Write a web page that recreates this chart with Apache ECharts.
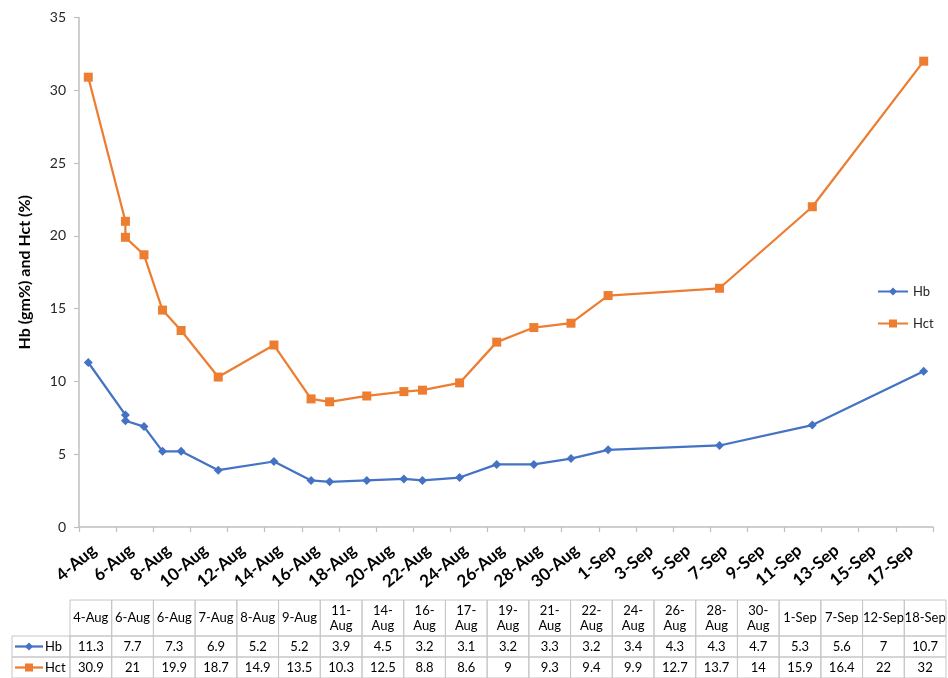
<!DOCTYPE html>
<html>
<head>
<meta charset="utf-8">
<script src="https://cdn.jsdelivr.net/npm/echarts@6/dist/echarts.min.js"></script>
<style>
  html, body { margin: 0; padding: 0; background: #fff; }
  #chart { width: 948px; height: 678px; }
</style>
</head>
<body>
<div id="chart"></div>
<script>
// Dates of each blood count (day-Month)
const dates = ['4-Aug', '6-Aug', '6-Aug', '7-Aug', '8-Aug', '9-Aug', '11-Aug', '14-Aug', '16-Aug', '17-Aug',
  '19-Aug', '21-Aug', '22-Aug', '24-Aug', '26-Aug', '28-Aug', '30-Aug', '1-Sep', '7-Sep', '12-Sep', '18-Sep'];
// Column headings of the data table (long ones wrap after the hyphen)
const tableHeads = ['4-Aug', '6-Aug', '6-Aug', '7-Aug', '8-Aug', '9-Aug', '11-\nAug', '14-\nAug', '16-\nAug', '17-\nAug',
  '19-\nAug', '21-\nAug', '22-\nAug', '24-\nAug', '26-\nAug', '28-\nAug', '30-\nAug', '1-Sep', '7-Sep', '12-Sep', '18-Sep'];
// Haemoglobin (gm%)
const hb = [11.3, 7.7, 7.3, 6.9, 5.2, 5.2, 3.9, 4.5, 3.2, 3.1, 3.2, 3.3, 3.2, 3.4, 4.3, 4.3, 4.7, 5.3, 5.6, 7, 10.7];
// Haematocrit (%)
const hct = [30.9, 21, 19.9, 18.7, 14.9, 13.5, 10.3, 12.5, 8.8, 8.6, 9, 9.3, 9.4, 9.9, 12.7, 13.7, 14, 15.9, 16.4, 22, 32];
const seriesNames = ['Hb', 'Hct'];

// ---- date axis helpers: days counted from 4-Aug, each day is one slot ----
const MONTHS = ['Jan', 'Feb', 'Mar', 'Apr', 'May', 'Jun', 'Jul', 'Aug', 'Sep', 'Oct', 'Nov', 'Dec'];
const DAY = 86400000;
const origin = Date.UTC(2001, 7, 4);
const SPAN_DAYS = 46;            // 4-Aug .. 18-Sep inclusive
const STEP_DAYS = 2;
function dayIndex(s) {
  const [d, m] = s.split('-');
  return (Date.UTC(2001, MONTHS.indexOf(m), +d) - origin) / DAY;
}
function dayLabel(n) {
  const t = new Date(origin + n * DAY);
  return t.getUTCDate() + '-' + MONTHS[t.getUTCMonth()];
}
// date ticks every second day; the closing tick carries no label
const labelDays = [];
for (let d = 0; d < SPAN_DAYS; d += STEP_DAYS) labelDays.push(d);

// ---- styles ----
const FONT = 'Lato, "Open Sans", sans-serif';
const BLUE = '#4472C4';
const ORANGE = '#ED7D31';
const AXIS_GREY = '#BFBFBF';
const GRID_GREY = '#C6C6C6';
const LABEL_ANGLE = 40 * Math.PI / 180;

// ---- table layout (value units of the table grid) ----
const LEGEND_COL = 1.39;          // width of the key column, in data-column units
const ROW_EDGES = [0, 36, 57, 78]; // header, Hb row, Hct row

const hbPoints = dates.map((d, i) => [dayIndex(d) + 0.5, hb[i]]);
const hctPoints = dates.map((d, i) => [dayIndex(d) + 0.5, hct[i]]);

function cellText(x, y, text, extra) {
  return {
    type: 'text',
    style: Object.assign({
      x: x, y: y, text: text, align: 'center', verticalAlign: 'middle',
      font: '13px ' + FONT, fill: '#000', lineHeight: 15
    }, extra || {})
  };
}

// slanted date labels hanging below the x axis
function renderDateLabel(params, api) {
  const d = api.value(0);
  const p = api.coord([d, 0]);
  return {
    type: 'text',
    x: p[0] + 15,
    y: p[1] + 21,
    rotation: LABEL_ANGLE,
    style: {
      text: dayLabel(d), align: 'right', verticalAlign: 'middle',
      font: 'bold 17px ' + FONT, fill: '#000'
    }
  };
}

function renderColumn(params, api) {
  const i = api.value(0);
  const x0 = api.coord([i, 0])[0];
  const x1 = api.coord([i + 1, 0])[0];
  const ys = ROW_EDGES.map(r => api.coord([i, r])[1]);
  const xm = (x0 + x1) / 2;
  const cells = [];
  for (let r = 0; r < 3; r++) {
    cells.push({
      type: 'rect',
      shape: { x: x0, y: ys[r], width: x1 - x0, height: ys[r + 1] - ys[r] },
      style: { fill: 'none', stroke: GRID_GREY, lineWidth: 1 }
    });
  }
  cells.push(cellText(xm, (ys[0] + ys[1]) / 2, tableHeads[i]));
  cells.push(cellText(xm, (ys[1] + ys[2]) / 2, String(hb[i])));
  cells.push(cellText(xm, (ys[2] + ys[3]) / 2, String(hct[i])));
  return { type: 'group', children: cells };
}

function renderKeys(params, api) {
  const x0 = api.coord([-LEGEND_COL, 0])[0];
  const x1 = api.coord([0, 0])[0];
  const ys = ROW_EDGES.map(r => api.coord([0, r])[1]);
  const kids = [];
  const colors = [BLUE, ORANGE];
  for (let r = 1; r < 3; r++) {
    const yc = (ys[r] + ys[r + 1]) / 2;
    kids.push({
      type: 'rect',
      shape: { x: x0, y: ys[r], width: x1 - x0, height: ys[r + 1] - ys[r] },
      style: { fill: 'none', stroke: GRID_GREY, lineWidth: 1 }
    });
    const lx0 = x0 + 3, lx1 = x0 + 31, lm = (lx0 + lx1) / 2;
    kids.push({
      type: 'line', shape: { x1: lx0, y1: yc, x2: lx1, y2: yc },
      style: { stroke: colors[r - 1], lineWidth: 2.25 }
    });
    if (r === 1) {
      kids.push({
        type: 'polygon',
        shape: { points: [[lm, yc - 4], [lm + 4, yc], [lm, yc + 4], [lm - 4, yc]] },
        style: { fill: BLUE }
      });
    } else {
      kids.push({
        type: 'rect', shape: { x: lm - 4, y: yc - 4, width: 8, height: 8 },
        style: { fill: ORANGE }
      });
    }
    kids.push(cellText(lx1 + 2, yc, seriesNames[r - 1], { align: 'left' }));
  }
  return { type: 'group', children: kids };
}

const chart = echarts.init(document.getElementById('chart'), null, { renderer: 'canvas' });
chart.setOption({
  animation: false,
  backgroundColor: '#fff',
  textStyle: { fontFamily: FONT },
  grid: [
    { left: 79, right: 15, top: 17.5, bottom: 151 },
    { left: 12, right: 2, top: 600, bottom: 0 }
  ],
  legend: {
    data: seriesNames,
    orient: 'vertical',
    left: 872,
    top: 280,
    itemWidth: 30,
    itemHeight: 10,
    itemGap: 19,
    textStyle: { fontSize: 13, color: '#262626', fontFamily: FONT }
  },
  xAxis: [
    {
      type: 'value', gridIndex: 0, min: 0, max: SPAN_DAYS, interval: STEP_DAYS,
      axisLine: { show: true, lineStyle: { color: AXIS_GREY, width: 1.5 } },
      axisTick: { show: true, length: 5, lineStyle: { color: AXIS_GREY, width: 1.2 } },
      splitLine: { show: false },
      axisLabel: { show: false }
    },
    { type: 'value', gridIndex: 1, min: -LEGEND_COL, max: dates.length, show: false }
  ],
  yAxis: [
    {
      type: 'value', gridIndex: 0, min: 0, max: 35, interval: 5,
      axisLine: { show: true, lineStyle: { color: AXIS_GREY, width: 1.5 } },
      axisTick: { show: true, length: 5, lineStyle: { color: AXIS_GREY, width: 1.2 } },
      splitLine: { show: false },
      axisLabel: { fontFamily: FONT, fontSize: 14, color: '#262626', margin: 13 },
      name: 'Hb (gm%) and Hct (%)',
      nameLocation: 'middle', nameGap: 46, nameRotate: 90,
      nameTextStyle: { fontFamily: FONT, fontWeight: 'bold', fontSize: 16, color: '#000' }
    },
    { type: 'value', gridIndex: 1, min: 0, max: ROW_EDGES[3], inverse: true, show: false }
  ],
  series: [
    {
      name: 'Hb', type: 'line', xAxisIndex: 0, yAxisIndex: 0, data: hbPoints,
      symbol: 'diamond', symbolSize: 9, showAllSymbol: true,
      lineStyle: { color: BLUE, width: 2.25 }, itemStyle: { color: BLUE }
    },
    {
      name: 'Hct', type: 'line', xAxisIndex: 0, yAxisIndex: 0, data: hctPoints,
      symbol: 'rect', symbolSize: 9, showAllSymbol: true,
      lineStyle: { color: ORANGE, width: 2.25 }, itemStyle: { color: ORANGE }
    },
    {
      type: 'custom', xAxisIndex: 0, yAxisIndex: 0, silent: true, clip: false,
      data: labelDays.map(d => [d, 0]), renderItem: renderDateLabel
    },
    {
      type: 'custom', xAxisIndex: 1, yAxisIndex: 1, silent: true,
      data: dates.map((d, i) => [i]), renderItem: renderColumn
    },
    {
      type: 'custom', xAxisIndex: 1, yAxisIndex: 1, silent: true,
      data: [[0]], renderItem: renderKeys
    }
  ]
});
</script>
</body>
</html>
